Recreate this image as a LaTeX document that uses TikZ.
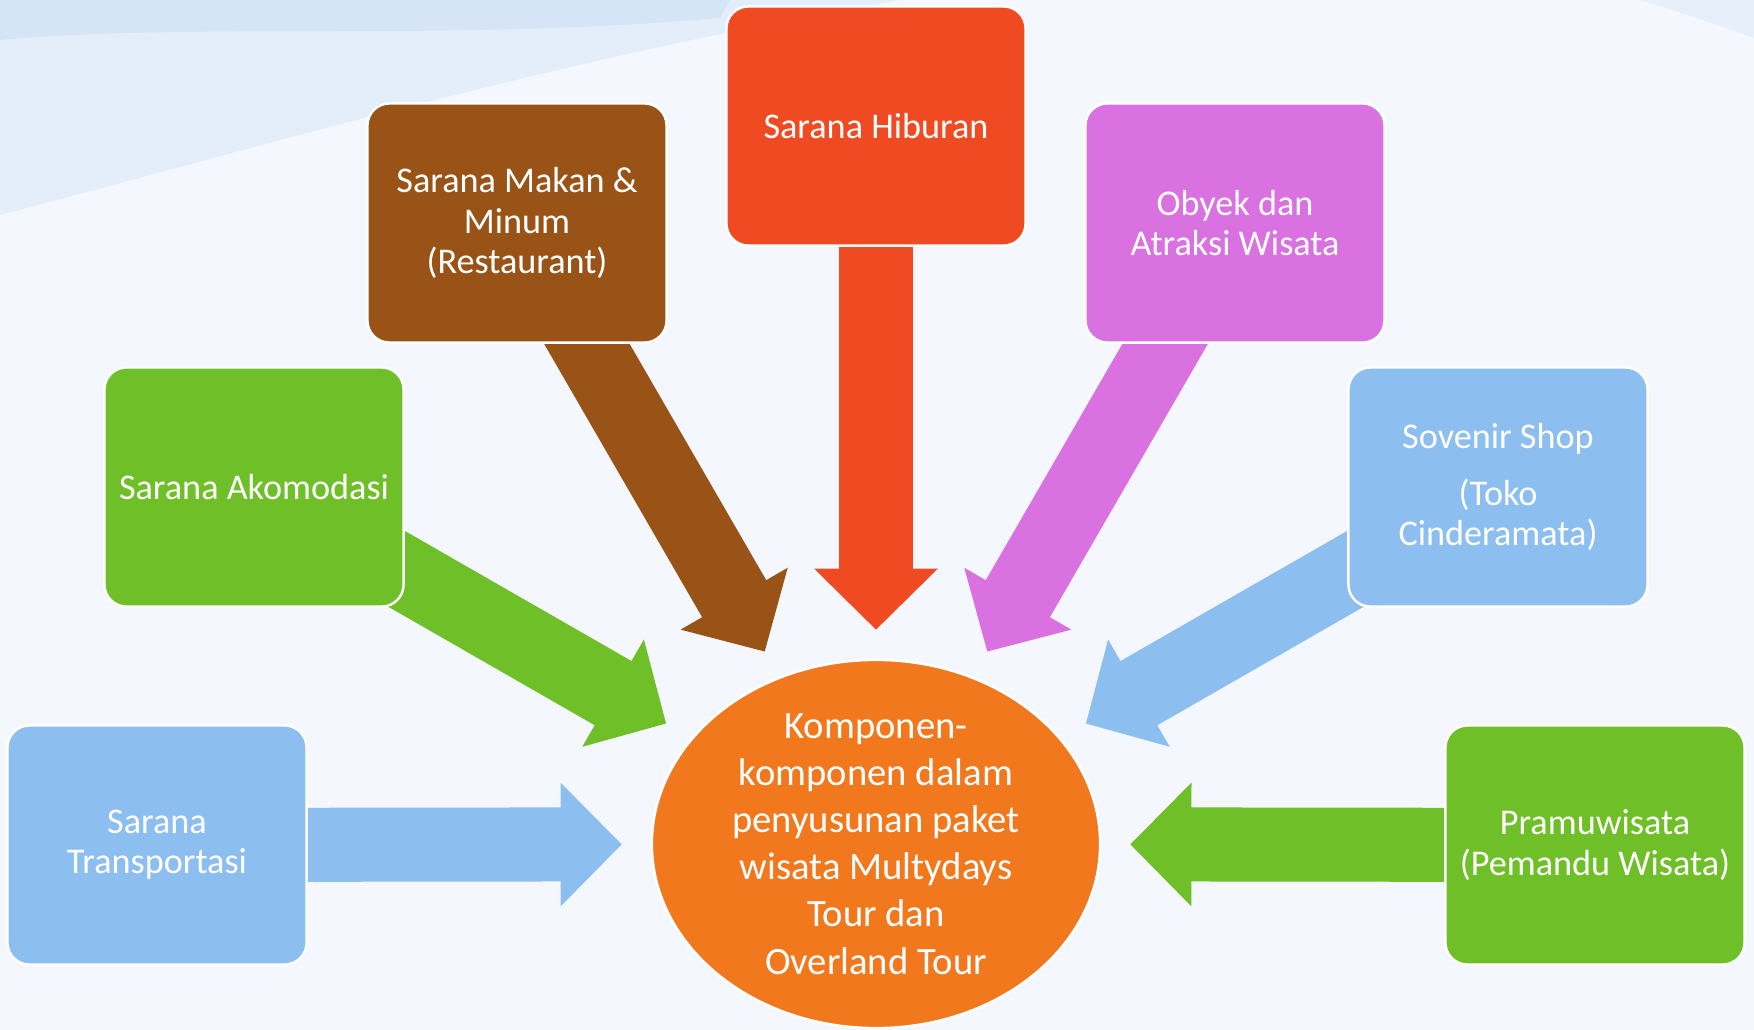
\documentclass[tikz,border=0pt]{standalone}
\usepackage{fontspec}
\setmainfont{Carlito}
\usepackage{tikz}
\usetikzlibrary{shapes.geometric,arrows.meta,backgrounds}
\definecolor{bgcol}{HTML}{F4F8FE}
\definecolor{swoosh}{HTML}{C6DCF4}
\definecolor{hibcol}{HTML}{F04A22}
\definecolor{makcol}{HTML}{9A5317}
\definecolor{obycol}{HTML}{D972E0}
\definecolor{grncol}{HTML}{6EBF28}
\definecolor{blucol}{HTML}{8CBEF0}
\definecolor{hubcol}{HTML}{F2781E}
\tikzset{
  block/.style={
    shape = rectangle,
    rounded corners = 0.22cm,
    draw = white,
    line width = 0.7pt,
    minimum width = 2.99cm,
    minimum height = 2.39cm,
    align = center,
    text = white,
    font = \fontsize{10.3}{11.4}\selectfont
  },
  hubshape/.style={
    shape = ellipse,
    draw = white,
    line width = 0.7pt,
    fill = hubcol,
    minimum width = 4.48cm,
    minimum height = 3.68cm
  },
  hubtext/.style={
    align = center,
    text = white,
    font = \fontsize{11}{13.4}\selectfont
  },
  fat/.style={
    line width = 0.74cm,
    shorten >= 0.29cm,
    -{Triangle[length=0.61cm, width=1.23cm, line width=1pt]}
  }
}
\begin{document}
\begin{tikzpicture}[x=0.01cm, y=-0.01cm]
  \useasboundingbox (0,0) rectangle (1754,1030);
  \node[block, fill=hibcol] (hib) at (876,126) {Sarana Hiburan};
  \node[block, fill=makcol] (mak) at (517,223) {Sarana Makan \&\\Minum\\(Restaurant)};
  \node[block, fill=obycol] (oby) at (1235,223) {Obyek dan\\Atraksi Wisata};
  \node[block, fill=grncol] (ako) at (254,487) {Sarana Akomodasi};
  \node[block, fill=blucol] (sov) at (1498,487) {Sovenir Shop\\[0.17cm](Toko\\Cinderamata)};
  \node[block, fill=blucol] (tra) at (157,845) {Sarana\\Transportasi};
  \node[block, fill=grncol] (pra) at (1595,845) {Pramuwisata\\(Pemandu Wisata)};
  \node[hubshape] (hub) at (876,844) {};
  \node[hubtext] (hubtxt) at (hub) {Komponen-\\komponen dalam\\penyusunan paket\\wisata Multydays\\Tour dan\\Overland Tour};
  \begin{scope}[on background layer]
    \fill[bgcol] (0,0) rectangle (1754,1030);
    \fill[swoosh, opacity=0.35] (0,0) -- (0,215) .. controls (250,150) and (550,60) .. (900,0) -- cycle;
    \fill[swoosh, opacity=0.45] (0,0) -- (0,40) .. controls (200,22) and (450,42) .. (720,18) -- (730,0) -- cycle;
    \fill[swoosh, opacity=0.3] (1640,0) .. controls (1690,15) and (1725,28) .. (1754,38) -- (1754,0) -- cycle;
    \foreach \src/\col in {hib/hibcol, mak/makcol, oby/obycol, ako/grncol, sov/blucol, tra/blucol, pra/grncol}
      \draw[fat, draw=\col] (\src.center) -- (hub);
  \end{scope}
\end{tikzpicture}
\end{document}
